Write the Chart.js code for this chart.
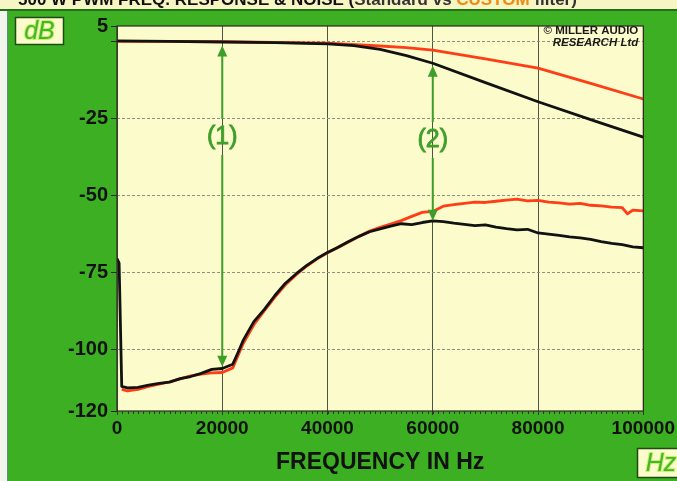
<!DOCTYPE html>
<html lang="en">
<head>
<meta charset="utf-8">
<title>Response &amp; noise</title>
<script src="https://cdn.jsdelivr.net/npm/chart.js@4.4.1/dist/chart.umd.min.js"></script>
<style>
  html, body { margin: 0; padding: 0; background: #3cb022; }
  canvas { display: block; }
</style>
</head>
<body>
<canvas id="grafico" width="677" height="481"></canvas>
<script>
/* ============================================================
   Frequency response + noise floor, 0–100 kHz.
   Two "pairs" of traces: response (top) and noise (bottom),
   black vs red. Everything else (frame, boxes, arrows) is drawn
   by the small plugin below, from the chart's own scales.
   ============================================================ */

// --- data ---
const blackResponseHz = [0, 10000, 20000, 30000, 40000, 45000, 50000, 55000, 60000, 70000, 80000, 90000, 100000];
const blackResponseDb = [0.2, 0, -0.2, -0.4, -0.8, -1.4, -2.6, -4.6, -7.1, -13.4, -19.6, -25.4, -31.1];

const redResponseHz = [0, 10000, 20000, 30000, 40000, 50000, 55000, 60000, 70000, 80000, 90000, 100000];
const redResponseDb = [0, 0, -0.1, -0.3, -0.6, -1.5, -2.0, -2.8, -5.7, -8.7, -13.6, -18.7];

const blackNoiseHz = [0, 400, 900, 2000, 4000, 6000, 8000, 10000, 12000, 14000, 16000, 18000, 20000,
  22000, 23000, 24000, 26000, 28000, 30000, 32000, 34000, 36000, 38000, 40000, 42000, 44000,
  46000, 48000, 50000, 52000, 54000, 56000, 58000, 60000, 62000, 64000, 66000, 68000, 70000,
  72000, 74000, 76000, 78000, 80000, 82000, 84000, 86000, 88000, 90000, 92000, 94000, 96000, 98000, 100000];
const blackNoiseDb = [-70.5, -72, -112, -112.5, -112.3, -111.6, -111, -110.6, -109.5, -108.8, -107.8, -106.5, -106.2,
  -104.8, -101, -97, -91, -87, -82.5, -78.5, -75.5, -72.8, -70.5, -68.5, -66.8, -65,
  -63.3, -61.8, -60.9, -60, -59.2, -59.5, -58.8, -58.3, -58.5, -59, -59.4, -59.8, -59.6,
  -60.3, -60.8, -61.2, -61, -62.2, -62.6, -63, -63.5, -63.8, -64.3, -65, -65.6, -66, -66.7, -67];

const redNoiseHz = [900, 2000, 4000, 6000, 8000, 10000, 12000, 14000, 16000, 18000, 20000,
  22000, 23000, 24000, 26000, 28000, 30000, 32000, 34000, 36000, 38000, 40000, 42000, 44000,
  46000, 48000, 50000, 52000, 54000, 56000, 58000, 60000, 62000, 64000, 66000, 68000, 70000,
  72000, 74000, 76000, 78000, 80000, 82000, 84000, 86000, 88000, 90000, 92000, 94000, 96000, 97000, 98000, 100000];
const redNoiseDb = [-113, -113.5, -113, -112, -111.3, -110.5, -109.6, -108.6, -108, -107.6, -107.5,
  -106, -102, -98, -92, -87.4, -83, -79, -75.8, -73, -70.6, -68.6, -66.9, -65.1,
  -63.3, -61.6, -60.4, -59.3, -58.2, -56.8, -55.5, -55.2, -53.5, -53, -52.6, -52.2, -52.3,
  -51.9, -51.5, -51.2, -51.8, -51.6, -52.2, -52.4, -52.8, -52.6, -53.2, -53.4, -53.8, -54, -56, -54.8, -55];

const xTicks = [0, 20000, 40000, 60000, 80000, 100000];
const yTicks = [5, 0, -25, -50, -75, -100, -120];
const yGridLines = [0, -25, -50, -75, -100];

// annotation arrows: frequency, tip at top, tip at bottom, label position (dB)
const arrowLabels = ['(1)', '(2)'];
const arrowHz = [20000, 60000];
const arrowTopDb = [-1.3, -7.9];
const arrowBottomDb = [-105.6, -58.2];
const arrowLabelDb = [-31, -32];

// --- colours ---
const GREEN = '#3cb022';
const PAPER = '#fbfbcb';
const ARROW = '#3d9e2a';
const FONT = '"Liberation Sans", Arial, Helvetica, sans-serif';

const pares = (hz, db) => hz.map((x, i) => ({ x, y: db[i] }));

function drawArrowHead(ctx, x, y, dir) {
  // dir = -1 points up, +1 points down
  ctx.beginPath();
  ctx.moveTo(x, y);
  ctx.lineTo(x - 5, y - dir * 11);
  ctx.lineTo(x + 5, y - dir * 11);
  ctx.closePath();
  ctx.fill();
}

function drawBox(ctx, x, y, w, h, text) {
  ctx.fillStyle = PAPER;
  ctx.fillRect(x, y, w, h);
  ctx.strokeStyle = '#1f4a14';
  ctx.lineWidth = 1.5;
  ctx.strokeRect(x + 0.5, y + 0.5, w - 1, h - 1);
  ctx.font = `italic 25px ${FONT}`;
  ctx.textAlign = 'center';
  ctx.textBaseline = 'middle';
  ctx.lineWidth = 2;
  ctx.strokeStyle = '#c8f070';
  ctx.strokeText(text, x + w / 2, y + h / 2 + 1);
  ctx.fillStyle = '#45b52a';
  ctx.fillText(text, x + w / 2, y + h / 2 + 1);
}

const moldura = {
  id: 'moldura',
  beforeDraw(chart) {
    const { ctx, width, height, chartArea: a } = chart;
    ctx.save();
    ctx.fillStyle = GREEN;
    ctx.fillRect(0, 0, width, height);

    // title strip, only its lower edge survives in the scan
    ctx.fillStyle = '#f8f5c4';
    ctx.fillRect(0, 0, width, 9);
    ctx.save();
    ctx.beginPath();
    ctx.rect(0, 0, width, 9);
    ctx.clip();
    ctx.font = `bold 17px ${FONT}`;
    ctx.textBaseline = 'alphabetic';
    ctx.textAlign = 'left';
    let tx = 18;
    [['500 W PWM FREQ. RESPONSE & NOISE (', '#111'], ['Standard vs ', '#333'], ['CUSTOM', '#f08a10'], [' filter)', '#333']]
      .forEach(([t, c]) => {
        ctx.fillStyle = c;
        ctx.fillText(t, tx, 5);
        tx += ctx.measureText(t).width;
      });
    ctx.restore();
    ctx.fillStyle = '#22701a';
    ctx.fillRect(0, 9, width, 2);

    // pale strip down the left edge
    ctx.fillStyle = '#f3f6ec';
    ctx.fillRect(0, 11, 7, height - 11);
    ctx.fillStyle = '#5f8f80';
    ctx.fillRect(7, 11, 1, height - 11);

    // plot paper
    ctx.fillStyle = PAPER;
    ctx.fillRect(a.left, a.top, a.right - a.left, a.bottom - a.top);
    ctx.restore();
  },
  afterDatasetsDraw(chart) {
    const { ctx, chartArea: a, scales: { x, y } } = chart;
    ctx.save();

    // frame round the plot
    ctx.strokeStyle = '#2a2a22';
    ctx.lineWidth = 1.2;
    ctx.strokeRect(a.left, a.top, a.right - a.left, a.bottom - a.top);

    // minor ticks along the bottom, every 1 kHz
    ctx.strokeStyle = '#333';
    ctx.lineWidth = 1;
    ctx.beginPath();
    for (let f = 1000; f < 100000; f += 1000) {
      const px = Math.round(x.getPixelForValue(f)) + 0.5;
      ctx.moveTo(px, a.bottom);
      ctx.lineTo(px, a.bottom + 3);
    }
    ctx.stroke();

    // arrows (1) and (2)
    ctx.fillStyle = ARROW;
    ctx.strokeStyle = ARROW;
    ctx.lineWidth = 2;
    ctx.font = `25px ${FONT}`;
    ctx.textAlign = 'center';
    ctx.textBaseline = 'middle';
    arrowLabels.forEach((label, i) => {
      const px = x.getPixelForValue(arrowHz[i]);
      const yTop = y.getPixelForValue(arrowTopDb[i]);
      const yBot = y.getPixelForValue(arrowBottomDb[i]);
      const yLab = y.getPixelForValue(arrowLabelDb[i]);
      ctx.beginPath();
      ctx.moveTo(px, yTop + 8);
      ctx.lineTo(px, yLab - 18);
      ctx.moveTo(px, yLab + 18);
      ctx.lineTo(px, yBot - 8);
      ctx.stroke();
      drawArrowHead(ctx, px, yTop, -1);
      drawArrowHead(ctx, px, yBot, 1);
      ctx.lineWidth = 0.8;
      ctx.strokeText(label, px, yLab);
      ctx.fillText(label, px, yLab);
      ctx.lineWidth = 2;
    });

    // copyright
    ctx.fillStyle = '#1a1a1a';
    ctx.textAlign = 'right';
    ctx.textBaseline = 'middle';
    ctx.font = `bold 11.5px ${FONT}`;
    ctx.fillText('\u00A9 MILLER AUDIO', a.right - 5, a.top + 5);
    ctx.font = `italic bold 11.5px ${FONT}`;
    ctx.fillText('RESEARCH Ltd', a.right - 5, a.top + 17);

    // unit boxes
    drawBox(ctx, 15, 17, 49, 28, 'dB');
    drawBox(ctx, 637, 448, 48, 30, 'Hz');
    ctx.restore();
  }
};

new Chart(document.getElementById('grafico'), {
  type: 'line',
  data: {
    datasets: [
      // black first so it sits on top of the red traces
      { data: pares(blackResponseHz, blackResponseDb), borderColor: '#121212' },
      { data: pares(blackNoiseHz, blackNoiseDb), borderColor: '#121212' },
      { data: pares(redResponseHz, redResponseDb), borderColor: '#ff3d17' },
      { data: pares(redNoiseHz, redNoiseDb), borderColor: '#ff3d17' }
    ]
  },
  options: {
    responsive: false,
    animation: false,
    devicePixelRatio: 1,
    layout: { padding: { left: 0, top: 26, right: 33, bottom: 0 } },
    elements: {
      point: { radius: 0 },
      line: { borderWidth: 2.8, tension: 0, borderJoinStyle: 'round', fill: false }
    },
    plugins: { legend: { display: false }, tooltip: { enabled: false } },
    scales: {
      x: {
        type: 'linear',
        min: 0,
        max: 100000,
        afterFit: s => { s.height = 70; },
        afterBuildTicks: s => { s.ticks = xTicks.map(v => ({ value: v })); },
        border: { display: false },
        grid: { color: '#4d5544', lineWidth: 1, tickLength: 4, tickColor: '#333' },
        ticks: {
          color: '#111',
          font: { family: FONT, size: 19, weight: 'bold' },
          padding: 2,
          maxRotation: 0,
          autoSkip: false,
          callback: v => String(v)
        },
        title: {
          display: true,
          text: 'FREQUENCY IN Hz',
          color: '#111',
          font: { family: FONT, size: 23, weight: 'bold' },
          padding: { top: 0, bottom: 5 }
        }
      },
      y: {
        type: 'linear',
        min: -120,
        max: 5,
        afterFit: s => { s.width = 117; },
        afterBuildTicks: s => { s.ticks = yTicks.map(v => ({ value: v })); },
        border: { display: false, dash: [3, 2] },
        grid: {
          color: c => (yGridLines.includes(c.tick.value) ? '#8f9180' : 'rgba(0,0,0,0)'),
          lineWidth: 1,
          tickLength: 6,
          tickColor: '#222',
          tickBorderDash: []
        },
        ticks: {
          color: '#111',
          font: { family: FONT, size: 20, weight: 'bold' },
          padding: 3,
          callback: v => (v === 0 ? '' : String(v))
        }
      }
    }
  },
  plugins: [moldura]
});
</script>
</body>
</html>
